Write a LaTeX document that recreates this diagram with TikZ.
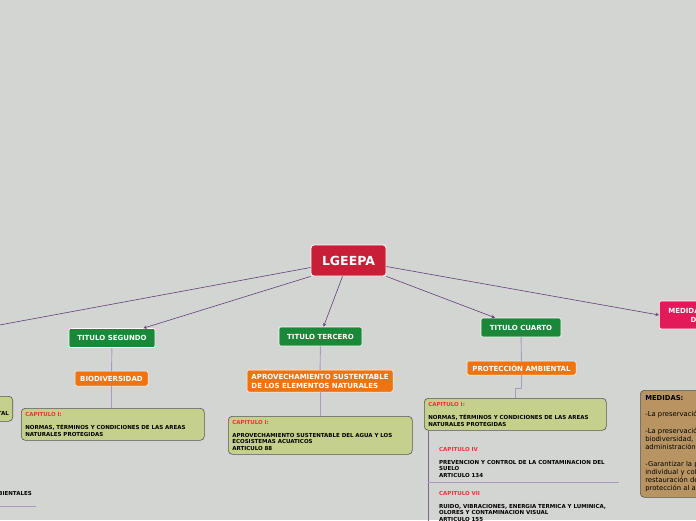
\documentclass[tikz,border=0pt]{standalone}
\usepackage{fontspec}
\setmainfont{DejaVu Sans}
\definecolor{fondo}{RGB}{211,213,210}
\definecolor{rojo}{RGB}{200,30,55}
\definecolor{verde}{RGB}{27,135,57}
\definecolor{naranja}{RGB}{238,116,17}
\definecolor{oliva}{RGB}{197,208,141}
\definecolor{cafe}{RGB}{184,148,98}
\definecolor{rosa}{RGB}{226,26,90}
\definecolor{morado}{RGB}{100,62,122}
\definecolor{lila}{RGB}{172,152,194}
\definecolor{gris}{RGB}{120,104,138}
\definecolor{borde}{RGB}{85,85,85}
\definecolor{rojotexto}{RGB}{238,48,60}
\tikzstyle{raiz}=[rectangle, rounded corners=3pt, draw=white, line width=0.8pt, fill=rojo, text=white, font=\fontsize{12.5}{14}\selectfont\bfseries, minimum width=75pt, minimum height=31pt]
\tikzstyle{titulo}=[rectangle, rounded corners=2pt, draw=white, line width=0.6pt, fill=verde, text=white, font=\fontsize{7}{8.5}\selectfont\bfseries, minimum height=19pt, inner xsep=4pt]
\tikzstyle{tema}=[rectangle, rounded corners=2pt, draw=white, line width=0.5pt, fill=naranja, text=white, font=\fontsize{7}{9}\selectfont\bfseries, align=left, inner xsep=4pt, inner ysep=2pt]
\tikzstyle{capitulo}=[rectangle, rounded corners=4pt, draw=borde, line width=0.6pt, fill=oliva, font=\fontsize{5.5}{6.5}\selectfont\bfseries, align=left, anchor=north west, inner xsep=4pt, inner ysep=3pt]
\tikzstyle{item}=[anchor=north west, font=\fontsize{5.5}{6.5}\selectfont\bfseries, align=left, inner sep=2pt]
\tikzstyle{enlace}=[draw=morado, line width=0.6pt, -stealth]
\tikzstyle{rama}=[draw=lila, line width=0.9pt]
\newcommand{\titulo}{\node[titulo]}
\newcommand{\capit}[1]{\textcolor{rojotexto}{#1}\\[6.5pt]}

\begin{document}
\begin{tikzpicture}[x=1pt, y=-1pt]
\useasboundingbox (0,0) rectangle (696,520);
\fill[fondo] (0,0) rectangle (696,520);
\clip (0,0) rectangle (696,520);
%root
\node[raiz] (lgeepa) at (348.5,260.5){LGEEPA};
\coordinate (tprimero) at (-60,336);
%titles
\titulo[minimum width=86pt] (tsegundo) at (112,338){TITULO SEGUNDO};
\titulo[minimum width=83pt] (ttercero) at (320.5,336.5){TITULO TERCERO};
\titulo[minimum width=80pt] (tcuarto) at (521,327.5){TITULO CUARTO};
\node[titulo, fill=rosa, align=center, minimum height=28pt, inner xsep=9pt, anchor=west, font=\fontsize{7}{9}\selectfont\bfseries] (medidas) at (659,315){MEDIDAS DE PROTECCIÓN\\DEL AMBIENTE};
%topics
\node[tema, minimum width=73pt, minimum height=15pt] (biodiv) at (111.5,378.5){BIODIVERSIDAD};
\node[tema, minimum width=146pt, minimum height=22pt] (aprov) at (320,381){APROVECHAMIENTO SUSTENTABLE\\DE LOS ELEMENTOS NATURALES};
\node[tema, minimum width=109pt, minimum height=14pt] (proteccion) at (521.5,368){PROTECCIÒN AMBIENTAL};
%chapters
\node[capitulo, text width=175pt, minimum height=32pt] (capseg) at (21,408){\capit{CAPITULO I:}NORMAS, TÉRMINOS Y CONDICIONES DE LAS AREAS\\NATURALES PROTEGIDAS};
\node[capitulo, text width=176pt, minimum height=38pt] (capter) at (228,416){\capit{CAPITULO I:}APROVECHAMIENTO SUSTENTABLE DEL AGUA Y LOS\\ECOSISTEMAS ACUATICOS\\ARTICULO 88};
\node[capitulo, text width=174pt, minimum height=32pt] (capcuarto) at (424,398){\capit{CAPITULO I:}NORMAS, TÉRMINOS Y CONDICIONES DE LAS AREAS\\NATURALES PROTEGIDAS};
\node[capitulo, anchor=north east, minimum width=120pt, minimum height=25pt] (capprimero) at (13,396){};
\node[anchor=east, font=\fontsize{5.5}{6.5}\selectfont\bfseries, inner sep=0pt] (politica) at (9,413){POLITICA AMBIENTAL};
\node[anchor=east, font=\fontsize{5.5}{6.5}\selectfont\bfseries, inner sep=0pt] (auditorias) at (32,493){AUDITORIAS AMBIENTALES};
%sub items
\node[item] (capiv) at (437,445){\capit{CAPITULO IV}PREVENCION Y CONTROL DE LA CONTAMINACION DEL\\SUELO\\ARTICULO 134};
\node[item] (capvii) at (437,489){\capit{CAPITULO VII}RUIDO, VIBRACIONES, ENERGIA TERMICA Y LUMINICA,\\OLORES Y CONTAMINACION VISUAL\\ARTICULO 155};
\node[capitulo, fill=cafe, text width=260pt, minimum height=107pt, inner xsep=5pt, inner ysep=2pt, font=\fontsize{6.8}{8.2}\selectfont] (medbox) at (640,390){\textbf{MEDIDAS:}\\[8.2pt]-La preservación, la restauración y el mejoramiento del ambiente\\[8.2pt]-La preservación y protección de la\\biodiversidad, así como el establecimiento y\\administración de las áreas naturales protegidas\\[8.2pt]-Garantizar la participación corresponsable de las personas\\individual y colectiva, en la preservación y la\\restauración del equilibrio ecológico y la\\protección al ambiente};
%edges
\draw[enlace, -] ([yshift=-7pt]lgeepa.west) -- (tprimero);
\draw[enlace] (lgeepa.south west) -- ([xshift=-12pt]tsegundo.north east);
\draw[enlace] ([xshift=-6pt]lgeepa.south) -- ([xshift=3pt]ttercero.north);
\draw[enlace] (lgeepa.south east) -- ([xshift=-26pt]tcuarto.north);
\draw[enlace] ([yshift=-6pt]lgeepa.east) -- (medidas.west);
\draw[rama] (tsegundo) -- (biodiv);
\draw[rama] (biodiv) -- (biodiv |- capseg.north);
\draw[rama] (ttercero) -- (aprov);
\draw[rama] (aprov) -- (aprov |- capter.north);
\draw[rama] (tcuarto) -- (proteccion);
\draw[rama] (proteccion.south) -- ++(0,13) -| (capcuarto.north);
\coordinate (cola) at (428,530);
\coordinate (sepa) at (428,482);
\coordinate (sepb) at (619,482);
\coordinate (lina) at (-20,506);
\coordinate (linb) at (36,506);
\draw[draw=gris, line width=0.6pt] ([xshift=4pt]capcuarto.south west) -- (cola);
\draw[rama] (sepa) -- (sepb);
\draw[rama] (lina) -- (linb);
\end{tikzpicture}
\end{document}
